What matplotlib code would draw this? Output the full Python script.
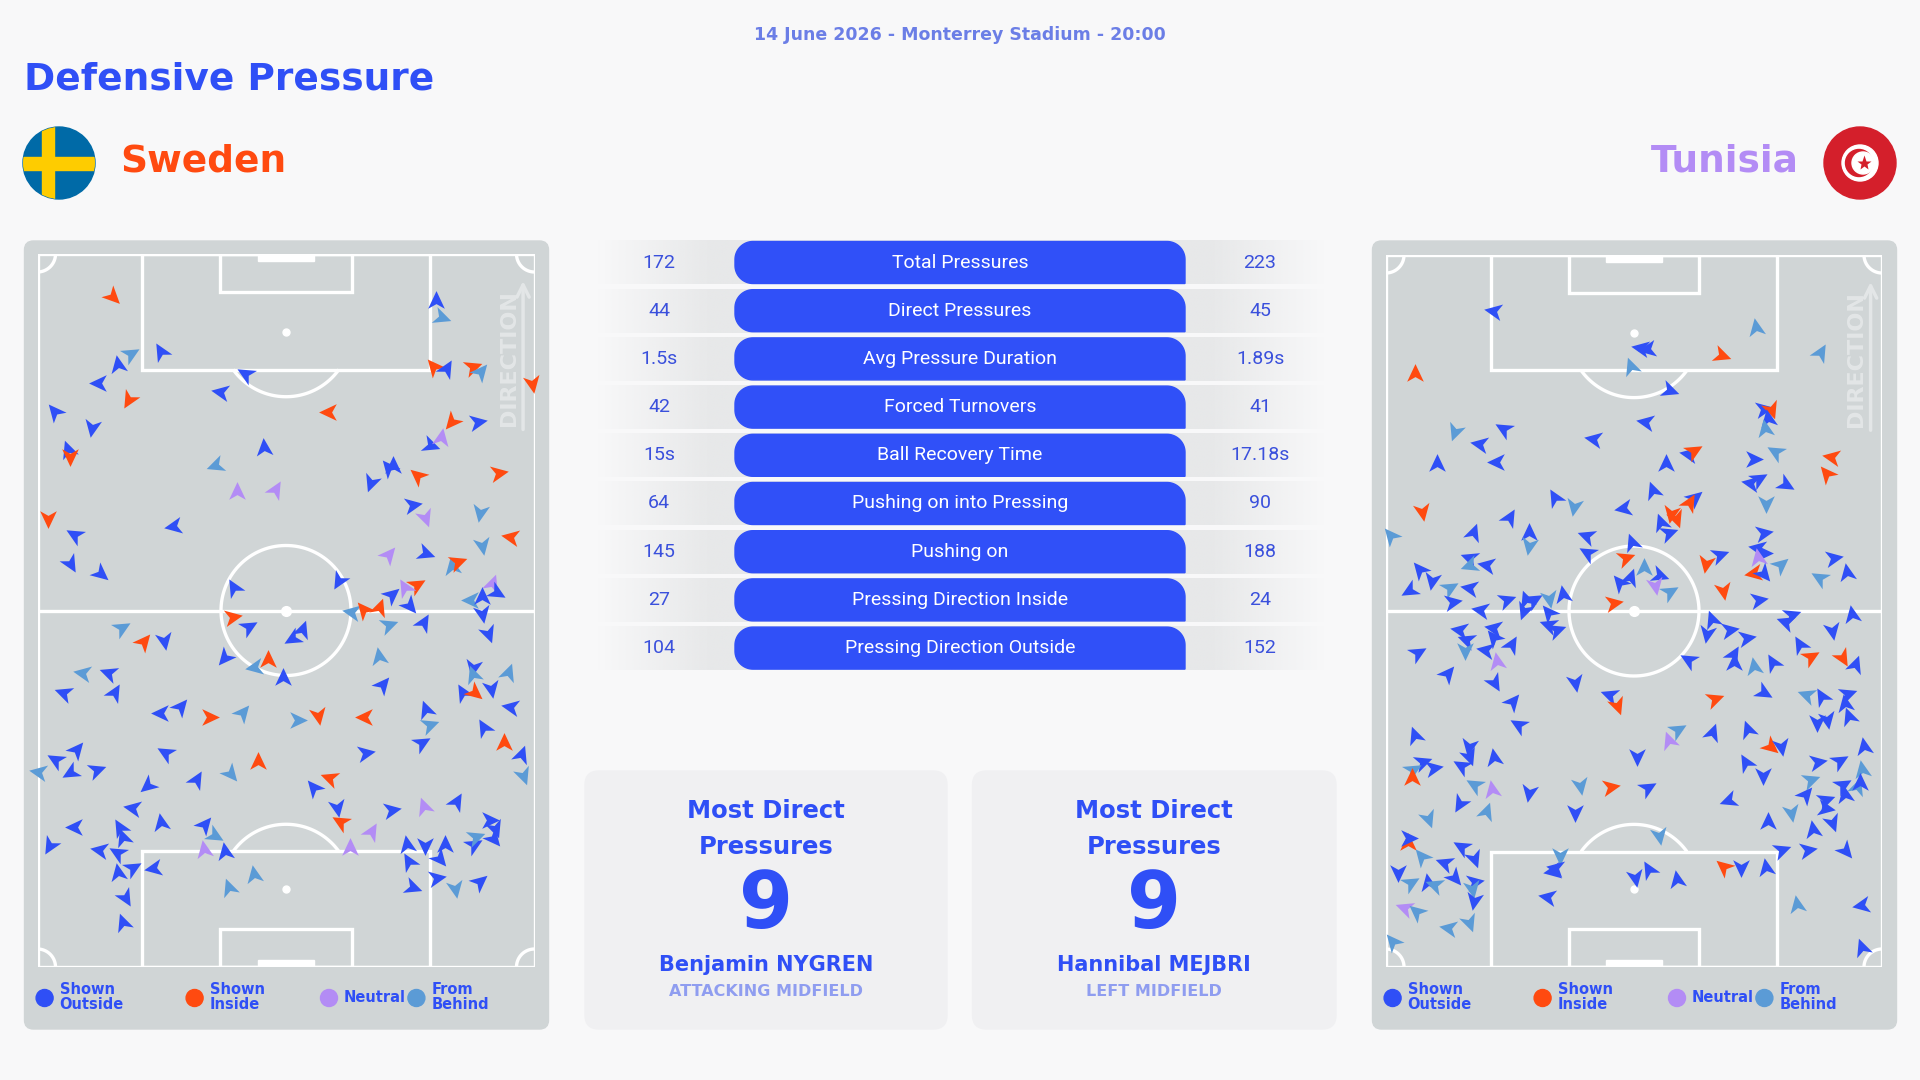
import numpy as np
import matplotlib.pyplot as plt
from matplotlib.patches import FancyBboxPatch, Rectangle, Circle, Polygon
from matplotlib.markers import MarkerStyle
from matplotlib.path import Path
from matplotlib.transforms import Affine2D
from matplotlib.colors import to_rgb

# ---- data -------------------------------------------------------------
match_info = '14 June 2026 - Monterrey Stadium - 20:00'
home_team, away_team = 'Sweden', 'Tunisia'

stat_labels = ['Total Pressures', 'Direct Pressures', 'Avg Pressure Duration',
               'Forced Turnovers', 'Ball Recovery Time', 'Pushing on into Pressing',
               'Pushing on', 'Pressing Direction Inside', 'Pressing Direction Outside']
sweden_stats = ['172', '44', '1.5s', '42', '15s', '64', '145', '27', '104']
tunisia_stats = ['223', '45', '1.89s', '41', '17.18s', '90', '188', '24', '152']

top_players = [('Most Direct\nPressures', '9', 'Benjamin NYGREN', 'ATTACKING MIDFIELD'),
               ('Most Direct\nPressures', '9', 'Hannibal MEJBRI', 'LEFT MIDFIELD')]

legend_labels = ['Shown\nOutside', 'Shown\nInside', 'Neutral', 'From\nBehind']
type_codes = ['so', 'si', 'ne', 'fb']

# pressures: (x across pitch 0-100, y along pitch 0-100 towards attack, direction deg ccw from up, type)
sweden_pressures = [
    (15.0, 94.1, 225, 'si'), (80.2, 93.4, 0, 'so'), (81.2, 91.1, 250, 'fb'), (18.6, 86.0, 300, 'fb'),
    (24.8, 86.3, 30, 'so'), (16.2, 84.5, 10, 'so'), (12.4, 81.9, 90, 'so'), (18.4, 79.7, 150, 'si'),
    (42.0, 83.1, 60, 'so'), (36.9, 80.7, 80, 'so'), (58.7, 77.9, 90, 'si'), (79.8, 84.2, 40, 'si'),
    (82.2, 83.9, 330, 'so'), (87.4, 84.2, 290, 'si'), (89.0, 83.5, 320, 'fb'), (99.5, 81.9, 190, 'si'),
    (3.5, 77.9, 40, 'so'), (11.0, 75.8, 170, 'so'), (6.1, 72.5, 20, 'so'), (6.5, 71.6, 180, 'si'),
    (83.4, 76.6, 140, 'si'), (88.4, 76.5, 280, 'so'), (79.0, 73.2, 250, 'so'), (81.2, 74.2, 350, 'ne'),
    (45.6, 72.8, 5, 'so'), (35.9, 70.4, 110, 'fb'), (71.5, 70.2, 0, 'so'), (70.7, 70.0, 40, 'so'),
    (76.6, 68.9, 50, 'si'), (67.1, 68.0, 160, 'so'), (92.7, 69.3, 280, 'si'), (40.1, 66.6, 0, 'ne'),
    (47.8, 66.9, 330, 'ne'), (75.4, 64.8, 280, 'so'), (89.0, 63.8, 170, 'fb'), (78.0, 63.1, 200, 'ne'),
    (2.1, 63.0, 180, 'si'), (27.5, 61.9, 100, 'so'), (7.5, 60.6, 60, 'so'), (95.3, 60.3, 80, 'si'),
    (89.4, 59.2, 190, 'fb'), (6.5, 56.7, 210, 'so'), (12.6, 55.3, 230, 'so'), (70.5, 57.8, 320, 'ne'),
    (78.0, 58.1, 250, 'so'), (83.4, 56.1, 10, 'fb'), (84.4, 56.8, 290, 'si'), (91.4, 53.7, 340, 'ne'),
    (92.3, 52.6, 240, 'so'), (39.5, 53.2, 30, 'so'), (60.7, 54.3, 150, 'so'), (76.2, 53.6, 300, 'si'),
    (73.9, 53.2, 30, 'ne'), (71.1, 52.2, 310, 'so'), (74.7, 50.8, 220, 'so'), (87.2, 51.5, 90, 'fb'),
    (89.4, 51.9, 0, 'so'), (89.4, 49.7, 190, 'so'), (77.6, 48.3, 330, 'so'), (90.6, 46.9, 200, 'so'),
    (63.3, 49.8, 80, 'fb'), (65.7, 50.1, 40, 'si'), (68.7, 50.4, 340, 'si'), (39.1, 49.1, 280, 'si'),
    (42.4, 47.7, 300, 'so'), (51.4, 46.2, 120, 'so'), (53.2, 47.3, 340, 'so'), (70.5, 48.0, 290, 'fb'),
    (16.8, 47.6, 300, 'fb'), (21.2, 45.6, 320, 'si'), (25.5, 45.9, 190, 'so'), (9.2, 41.2, 80, 'fb'),
    (14.4, 41.2, 70, 'so'), (5.3, 38.4, 70, 'so'), (15.4, 38.4, 330, 'so'), (37.7, 43.5, 140, 'so'),
    (43.8, 42.1, 100, 'fb'), (46.4, 43.1, 0, 'si'), (49.4, 40.5, 0, 'so'), (68.7, 43.5, 10, 'fb'),
    (69.3, 39.6, 320, 'so'), (87.6, 42.1, 170, 'so'), (87.6, 41.0, 20, 'fb'), (94.7, 41.2, 340, 'fb'),
    (85.6, 38.4, 30, 'so'), (87.8, 38.6, 230, 'si'), (91.2, 39.1, 190, 'so'), (95.3, 36.5, 80, 'so'),
    (24.8, 35.6, 90, 'so'), (28.7, 36.5, 320, 'so'), (34.5, 35.1, 270, 'si'), (41.1, 35.6, 320, 'fb'),
    (52.2, 34.7, 270, 'fb'), (56.4, 35.4, 190, 'si'), (65.9, 35.1, 90, 'si'), (78.2, 36.1, 20, 'so'),
    (78.8, 34.0, 290, 'fb'), (89.8, 33.5, 30, 'so'), (77.2, 31.4, 300, 'so'), (93.9, 31.4, 0, 'si'),
    (97.3, 29.7, 340, 'so'), (97.7, 26.9, 200, 'fb'), (3.7, 29.0, 60, 'so'), (7.7, 30.4, 320, 'so'),
    (6.7, 27.4, 120, 'so'), (11.8, 27.6, 290, 'so'), (25.9, 30.0, 60, 'so'), (31.9, 26.2, 330, 'so'),
    (38.7, 27.2, 220, 'fb'), (44.4, 28.8, 0, 'si'), (65.9, 30.0, 280, 'so'), (22.2, 25.5, 130, 'so'),
    (55.6, 25.1, 40, 'so'), (58.9, 26.5, 70, 'si'), (84.2, 23.1, 330, 'so'), (77.8, 22.4, 20, 'ne'),
    (71.1, 22.0, 280, 'so'), (60.3, 22.4, 190, 'so'), (19.2, 22.3, 80, 'so'), (0.3, 27.4, 80, 'fb'),
    (7.5, 19.6, 90, 'so'), (16.6, 19.5, 30, 'so'), (17.2, 18.1, 20, 'so'), (24.8, 20.2, 10, 'so'),
    (33.5, 19.9, 320, 'so'), (35.5, 18.5, 240, 'fb'), (2.5, 17.1, 150, 'so'), (12.6, 16.4, 80, 'so'),
    (16.2, 16.0, 60, 'so'), (16.2, 13.2, 10, 'so'), (19.0, 13.9, 300, 'so'), (23.4, 13.9, 100, 'so'),
    (33.5, 16.4, 10, 'ne'), (37.7, 16.1, 10, 'so'), (61.1, 20.3, 60, 'si'), (67.1, 18.9, 330, 'ne'),
    (62.9, 16.7, 0, 'ne'), (74.3, 17.1, 10, 'so'), (78.0, 17.1, 180, 'so'), (82.0, 17.1, 0, 'so'),
    (87.6, 17.1, 300, 'so'), (88.0, 18.2, 290, 'fb'), (90.8, 20.6, 270, 'so'), (92.1, 19.5, 200, 'so'),
    (91.7, 18.1, 220, 'so'), (74.7, 14.7, 30, 'so'), (80.8, 15.3, 220, 'so'), (80.2, 12.5, 280, 'so'),
    (75.4, 11.2, 250, 'so'), (84.0, 11.1, 190, 'fb'), (88.8, 11.9, 310, 'so'), (17.6, 9.8, 210, 'so'),
    (17.2, 6.2, 20, 'so'), (38.5, 11.1, 20, 'fb'), (43.6, 12.9, 10, 'fb'),
]

tunisia_pressures = [
    (21.8, 92.2, 80, 'so'), (74.6, 89.7, 10, 'fb'), (5.8, 83.3, 0, 'si'), (51.4, 87.0, 80, 'so'),
    (52.8, 86.8, 100, 'so'), (67.5, 85.9, 250, 'si'), (87.5, 86.3, 330, 'fb'), (49.4, 84.2, 20, 'fb'),
    (57.1, 81.0, 250, 'so'), (76.0, 78.4, 280, 'so'), (77.6, 78.4, 200, 'si'), (77.0, 77.0, 10, 'so'),
    (76.4, 75.6, 10, 'fb'), (13.9, 75.3, 160, 'fb'), (23.8, 75.6, 60, 'so'), (52.4, 76.5, 80, 'so'),
    (41.9, 74.2, 80, 'so'), (19.0, 73.5, 80, 'so'), (22.4, 70.9, 90, 'so'), (10.3, 70.7, 0, 'so'),
    (56.4, 70.7, 0, 'so'), (61.1, 72.1, 80, 'so'), (61.9, 72.5, 300, 'si'), (74.0, 71.4, 270, 'so'),
    (78.6, 72.3, 60, 'fb'), (89.9, 71.6, 80, 'si'), (88.9, 69.3, 40, 'si'), (73.6, 68.0, 80, 'so'),
    (75.0, 68.6, 300, 'so'), (80.4, 67.9, 240, 'so'), (76.6, 65.1, 180, 'fb'), (53.8, 66.9, 20, 'so'),
    (62.1, 65.9, 310, 'so'), (61.1, 65.2, 330, 'si'), (57.5, 63.7, 170, 'si'), (58.5, 63.0, 200, 'si'),
    (55.4, 62.4, 20, 'so'), (34.1, 65.9, 30, 'so'), (37.9, 64.8, 170, 'fb'), (48.0, 64.4, 100, 'so'),
    (7.3, 64.1, 190, 'si'), (24.8, 63.0, 330, 'so'), (17.5, 60.9, 340, 'so'), (28.8, 60.9, 0, 'so'),
    (40.5, 60.6, 70, 'so'), (56.9, 60.9, 290, 'so'), (76.0, 61.0, 280, 'so'), (1.0, 60.6, 40, 'fb'),
    (28.8, 59.2, 170, 'fb'), (40.7, 58.1, 60, 'so'), (49.6, 59.5, 20, 'so'), (16.9, 57.5, 70, 'so'),
    (16.9, 56.4, 110, 'fb'), (20.4, 56.4, 80, 'so'), (6.9, 55.7, 40, 'so'), (9.3, 54.3, 170, 'so'),
    (4.8, 52.9, 120, 'so'), (12.7, 53.2, 300, 'fb'), (16.9, 53.2, 80, 'so'), (13.3, 51.2, 280, 'so'),
    (24.2, 51.5, 290, 'so'), (28.2, 51.5, 20, 'so'), (29.6, 51.5, 300, 'so'), (32.9, 51.8, 190, 'fb'),
    (35.7, 52.2, 10, 'so'), (48.2, 57.5, 290, 'si'), (52.0, 56.0, 0, 'fb'), (47.2, 54.0, 40, 'so'),
    (49.2, 54.7, 340, 'so'), (55.0, 55.0, 250, 'so'), (54.2, 53.6, 190, 'ne'), (57.1, 52.6, 300, 'fb'),
    (45.8, 51.1, 280, 'si'), (64.5, 56.8, 170, 'si'), (67.1, 57.8, 290, 'so'), (67.9, 52.9, 190, 'si'),
    (75.0, 58.8, 80, 'so'), (76.0, 58.1, 270, 'so'), (75.0, 57.4, 10, 'ne'), (74.2, 55.3, 100, 'si'),
    (76.0, 55.4, 220, 'so'), (79.4, 56.4, 310, 'fb'), (75.0, 51.5, 280, 'so'), (90.1, 57.4, 280, 'so'),
    (87.5, 54.7, 60, 'fb'), (92.9, 55.3, 10, 'so'), (65.7, 48.7, 20, 'so'), (69.1, 47.3, 280, 'so'),
    (72.6, 46.2, 280, 'so'), (64.7, 46.9, 170, 'so'), (81.6, 49.4, 290, 'so'), (80.6, 48.4, 70, 'so'),
    (93.9, 49.4, 10, 'so'), (89.9, 47.3, 190, 'so'), (32.9, 49.7, 40, 'so'), (27.8, 50.1, 160, 'so'),
    (19.2, 50.1, 80, 'so'), (32.9, 48.0, 70, 'so'), (34.3, 47.3, 290, 'so'), (14.9, 47.3, 80, 'so'),
    (16.3, 45.9, 70, 'so'), (15.9, 44.5, 180, 'fb'), (21.8, 47.6, 80, 'so'), (21.8, 46.2, 40, 'so'),
    (20.2, 44.5, 80, 'so'), (25.2, 45.2, 330, 'so'), (22.4, 42.8, 10, 'ne'), (6.2, 44.1, 300, 'so'),
    (12.3, 41.2, 320, 'so'), (21.8, 40.0, 210, 'so'), (38.1, 40.0, 190, 'so'), (25.4, 37.2, 320, 'so'),
    (26.8, 34.0, 60, 'so'), (45.2, 38.2, 70, 'so'), (46.6, 36.8, 200, 'si'), (61.1, 43.1, 60, 'so'),
    (70.0, 43.8, 330, 'so'), (70.2, 42.7, 0, 'so'), (74.2, 42.1, 10, 'fb'), (78.0, 42.7, 30, 'so'),
    (83.5, 45.2, 30, 'so'), (85.5, 43.5, 300, 'si'), (91.9, 43.5, 210, 'si'), (94.6, 42.4, 340, 'so'),
    (66.1, 37.7, 290, 'si'), (76.0, 38.6, 240, 'so'), (84.9, 38.2, 70, 'fb'), (87.9, 37.9, 30, 'so'),
    (92.9, 38.4, 290, 'so'), (92.5, 37.0, 10, 'so'), (93.3, 35.1, 20, 'so'), (86.9, 34.4, 180, 'so'),
    (88.9, 34.9, 190, 'so'), (73.0, 33.3, 20, 'so'), (65.7, 32.8, 340, 'so'), (58.7, 33.3, 300, 'fb'),
    (57.1, 31.8, 20, 'ne'), (50.6, 29.7, 180, 'so'), (77.4, 31.1, 230, 'si'), (79.6, 31.1, 190, 'so'),
    (96.4, 30.9, 10, 'so'), (86.9, 28.8, 280, 'so'), (91.3, 29.0, 300, 'so'), (96.0, 27.6, 10, 'fb'),
    (72.6, 28.6, 30, 'so'), (76.0, 26.9, 180, 'so'), (5.8, 32.5, 20, 'so'), (16.7, 31.1, 170, 'so'),
    (16.7, 29.7, 200, 'so'), (21.8, 29.3, 10, 'so'), (15.3, 28.3, 60, 'so'), (7.3, 28.8, 290, 'so'),
    (9.5, 27.9, 280, 'so'), (5.2, 27.6, 300, 'fb'), (5.2, 26.5, 0, 'si'), (17.9, 25.5, 60, 'fb'),
    (21.4, 24.8, 10, 'ne'), (28.8, 24.6, 170, 'so'), (39.1, 25.5, 190, 'fb'), (45.2, 25.3, 280, 'si'),
    (52.6, 25.1, 300, 'so'), (85.5, 26.2, 290, 'fb'), (91.9, 25.5, 300, 'so'), (95.0, 25.3, 340, 'fb'),
    (95.6, 25.8, 0, 'so'), (14.9, 23.1, 150, 'so'), (20.2, 21.7, 340, 'fb'), (8.5, 20.9, 200, 'fb'),
    (38.1, 21.7, 180, 'so'), (69.1, 23.4, 110, 'so'), (84.5, 24.1, 320, 'so'), (88.5, 23.4, 290, 'so'),
    (88.5, 22.3, 260, 'so'), (92.5, 24.1, 10, 'so'), (81.6, 21.7, 190, 'fb'), (77.0, 20.3, 0, 'so'),
    (86.1, 19.2, 10, 'so'), (89.9, 20.3, 200, 'so'), (55.0, 18.5, 190, 'fb'), (4.4, 17.4, 0, 'si'),
    (4.4, 18.1, 270, 'so'), (7.3, 15.4, 40, 'fb'), (15.3, 16.8, 60, 'so'), (17.7, 15.3, 200, 'so'),
    (11.9, 14.6, 70, 'so'), (13.7, 12.6, 220, 'so'), (17.7, 11.9, 280, 'so'), (17.3, 11.1, 190, 'fb'),
    (17.7, 9.4, 170, 'so'), (2.4, 13.3, 180, 'so'), (4.8, 11.8, 300, 'fb'), (8.5, 11.8, 10, 'so'),
    (9.9, 11.5, 70, 'fb'), (3.8, 8.3, 70, 'ne'), (6.2, 7.7, 50, 'fb'), (12.7, 5.5, 80, 'fb'),
    (16.7, 6.3, 200, 'fb'), (1.4, 3.5, 40, 'fb'), (35.1, 15.7, 180, 'fb'), (34.3, 13.9, 80, 'so'),
    (33.7, 13.5, 100, 'so'), (32.7, 9.8, 80, 'so'), (50.2, 12.6, 190, 'so'), (53.0, 13.6, 30, 'so'),
    (58.7, 12.2, 10, 'so'), (68.1, 14.0, 50, 'si'), (71.6, 14.0, 180, 'so'), (76.6, 13.9, 10, 'so'),
    (79.6, 16.4, 290, 'so'), (84.9, 16.4, 280, 'so'), (92.5, 16.4, 220, 'so'), (82.9, 8.7, 10, 'fb'),
    (96.0, 8.7, 100, 'so'), (96.0, 2.7, 20, 'so'),
]

# ---- style ------------------------------------------------------------
BG = '#f8f8f9'
BLUE = '#2f4ff6'
PANEL = '#d0d5d6'
CARD = '#f0f0f2'
PILL = '#3050f8'
type_colors = {'so': '#2f4ff6', 'si': '#ff4a10', 'ne': '#b38cf5', 'fb': '#5b9bd6'}
W, H = 1920, 1080

fig = plt.figure(figsize=(19.2, 10.8), dpi=100, facecolor=BG)
bg = fig.add_axes([0, 0, 1, 1])
bg.axis('off')

# ---- header -----------------------------------------------------------
bg.text(960, 35, match_info, ha='center', va='center', fontsize=12.5,
        fontweight='bold', color='#6b7ee6')
bg.text(24, 80, 'Defensive Pressure', ha='left', va='center', fontsize=27,
        fontweight='bold', color=BLUE)
bg.text(120, 161, home_team, ha='left', va='center', fontsize=27,
        fontweight='bold', color='#ff4a10')
bg.text(1799, 161, away_team, ha='right', va='center', fontsize=27,
        fontweight='bold', color='#b38cf5')

# Sweden flag
disc = Circle((59, 163), 36, color='#006aa7', zorder=2)
bg.add_patch(disc)
for r in [Rectangle((41.5, 125), 12.5, 76, color='#fecc00', zorder=3),
          Rectangle((20, 156.5), 80, 13, color='#fecc00', zorder=3)]:
    bg.add_patch(r)
    r.set_clip_path(disc)

# Tunisia flag
bg.add_patch(Circle((1860, 163), 36, color='#d41f2b', zorder=2))
bg.add_patch(Circle((1860, 163), 18, color='white', zorder=3))
bg.add_patch(Circle((1859, 163), 13.5, color='#d41f2b', zorder=4))
bg.add_patch(Circle((1863, 163), 11, color='white', zorder=5))
bg.plot(1863.5, 163, marker='*', ms=11, color='#d41f2b', mec='none', zorder=6)

# ---- pitch panels -----------------------------------------------------
ARROW = Path([(0, 1), (0.8, -0.7), (0, -0.25), (-0.8, -0.7), (0, 1)],
             [Path.MOVETO, Path.LINETO, Path.LINETO, Path.LINETO, Path.CLOSEPOLY])
LW = 2.4


def draw_pitch(panel_x, pitch_x, pitch_y, pw, ph, pressures):
    bg.add_patch(FancyBboxPatch((panel_x, 241), 524, 788,
                                boxstyle='round,pad=0,rounding_size=9',
                                color=PANEL, zorder=1))
    ax = fig.add_axes([pitch_x / W, 1 - (pitch_y + ph) / H, pw / W, ph / H])
    ax.set_xlim(0, 100)
    ax.set_ylim(0, 100)
    ax.axis('off')
    sx, sy = pw / 100, ph / 100
    kw = dict(fill=False, ec='white', lw=LW, zorder=1)

    def arc(cx, cy, r, t1, t2):
        t = np.radians(np.linspace(t1, t2, 120))
        ax.plot(cx + r * np.cos(t) / sx, cy + r * np.sin(t) / sy,
                color='white', lw=LW, solid_capstyle='butt', zorder=1)

    ax.add_patch(Rectangle((0, 0), 100, 100, **kw))
    ax.plot([0, 100], [50, 50], color='white', lw=LW, zorder=1)
    arc(50, 50, 65, 0, 360)
    ax.plot(50, 50, 'o', color='white', ms=7, zorder=1)
    box_d, six_d, spot = 16.2, 5.3, 10.9
    ang = np.degrees(np.arccos((box_d - spot) * sy / 65))
    for base, sgn in [(0, 1), (100, -1)]:
        ax.add_patch(Rectangle((21.1, base if sgn > 0 else base - box_d), 57.8, box_d, **kw))
        ax.add_patch(Rectangle((36.8, base if sgn > 0 else base - six_d), 26.4, six_d, **kw))
        ax.add_patch(Rectangle((44.35, base if sgn > 0 else base - 1.0), 11.3, 1.0,
                               color='white', zorder=1))
        sp = base + sgn * spot
        ax.plot(50, sp, 'o', color='white', ms=5, zorder=1)
        mid = 90 if sgn > 0 else 270
        arc(50, sp, 65, mid - ang, mid + ang)
    arc(0, 0, 18, 0, 90)
    arc(100, 0, 18, 90, 180)
    arc(100, 100, 18, 180, 270)
    arc(0, 100, 18, 270, 360)

    # direction hint
    ax.text(94.8, 85.4, 'DIRECTION', rotation=90, ha='center', va='center',
            fontsize=16, fontweight='bold', color='#e3e6e7', zorder=1)
    ax.annotate('', xy=(97.7, 96.6), xytext=(97.7, 75.0),
                arrowprops=dict(arrowstyle='->', color='#e3e6e7', lw=2.5,
                                mutation_scale=22), zorder=1)

    for x, y, d, t in pressures:
        m = MarkerStyle(ARROW, transform=Affine2D().rotate_deg(d))
        ax.plot(x, y, marker=m, ms=15, color=type_colors[t], mew=0,
                ls='none', clip_on=False, zorder=3)

    # legend
    off = panel_x - 24.5
    for cx, code, lab in zip([44.6, 194.6, 329, 416.4], type_codes, legend_labels):
        bg.add_patch(Circle((cx + off, 998), 8.5, color=type_colors[code], zorder=3))
        bg.text(cx + off + 15, 997, lab, ha='left', va='center', fontsize=10.5,
                fontweight='bold', color=BLUE, linespacing=1.0, zorder=3)


draw_pitch(24.5, 37.5, 254, 497, 713, sweden_pressures)
draw_pitch(1372.5, 1386, 255, 496, 712, tunisia_pressures)


# ---- stats table ------------------------------------------------------
def pill_outline(x0, x1, y0, y1, r):
    # rounded on top-left, top-right and bottom-left; square bottom-right (y grows downwards)
    def corner(cx, cy, a1, a2):
        t = np.radians(np.linspace(a1, a2, 20))
        return np.column_stack([cx + r * np.cos(t), cy + r * np.sin(t)])
    return np.vstack([corner(x1 - r, y0 + r, -90, 0),
                      [[x1, y1]],
                      corner(x0 + r, y1 - r, 90, 180),
                      corner(x0 + r, y0 + r, 180, 270)])


xs = np.linspace(0, 1, 300)
strip = np.zeros((1, 300, 4))
strip[..., :3] = to_rgb('#e7e8e9')
strip[..., 3] = np.clip(np.minimum(xs, 1 - xs) / 0.16, 0, 1)

for i, (lab, hv, av) in enumerate(zip(stat_labels, sweden_stats, tunisia_stats)):
    cy = 262.5 + 48.2 * i
    bg.imshow(strip, extent=(596, 1326, cy + 22, cy - 22), aspect='auto',
              interpolation='bilinear', zorder=1)
    bg.add_patch(Polygon(pill_outline(735, 1185, cy - 21, cy + 21, 18),
                         closed=True, color=PILL, zorder=2))
    bg.text(960, cy, lab, ha='center', va='center', fontsize=14,
            family='Roboto', color='white', zorder=3)
    bg.text(659, cy, hv, ha='center', va='center', fontsize=14,
            family='Roboto', color='#3a50dc', zorder=3)
    bg.text(1260, cy, av, ha='center', va='center', fontsize=14,
            family='Roboto', color='#3a50dc', zorder=3)

# ---- player cards -----------------------------------------------------
for (x0, w), (title, val, name, pos) in zip([(585, 362), (972.5, 363.5)], top_players):
    cx = x0 + w / 2
    bg.add_patch(FancyBboxPatch((x0, 771), w, 258, boxstyle='round,pad=0,rounding_size=14',
                                color=CARD, zorder=1))
    bg.text(cx, 829, title, ha='center', va='center', fontsize=17.5,
            fontweight='bold', color=BLUE, linespacing=1.6)
    bg.text(cx, 906, val, ha='center', va='center', fontsize=56,
            fontweight='bold', color=BLUE)
    bg.text(cx, 965, name, ha='center', va='center', fontsize=15,
            fontweight='bold', color=BLUE)
    bg.text(cx, 992, pos, ha='center', va='center', fontsize=11.5,
            fontweight='bold', color='#8f9df0')

bg.set_xlim(0, W)
bg.set_ylim(H, 0)

fig.savefig('out.png', dpi=100, facecolor=BG)
